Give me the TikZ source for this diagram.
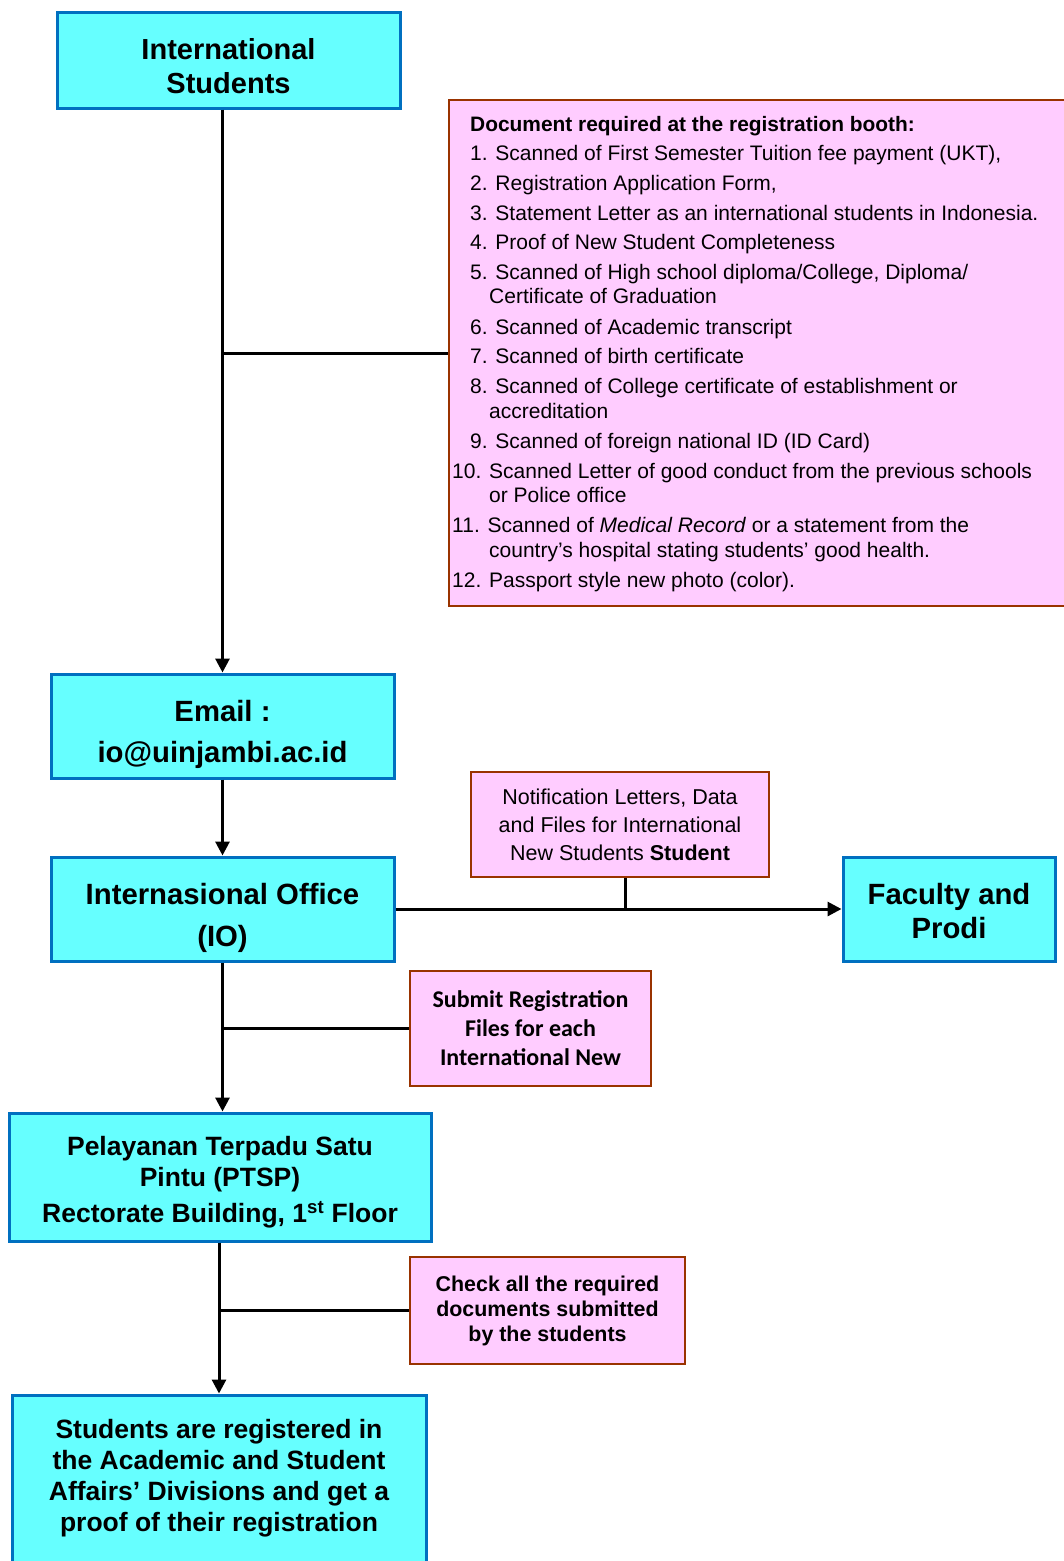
\documentclass[tikz,border=0pt]{standalone}
\usepackage{fontspec}
\setmainfont{Liberation Sans}
\newfontfamily\calibrifont{Carlito}
\usetikzlibrary{arrows.meta}
\definecolor{cyanfill}{HTML}{66FFFF}
\definecolor{boxblue}{HTML}{0070C0}
\definecolor{pinkfill}{HTML}{FFCCFF}
\definecolor{brownline}{HTML}{993300}
\begin{document}
\begin{tikzpicture}[x=1pt,y=-1pt,
  bluebox/.style={draw=boxblue,line width=3pt,fill=cyanfill,align=center,inner sep=0pt},
  pinkbox/.style={draw=brownline,line width=2pt,fill=pinkfill,align=center,inner sep=0pt},
  conn/.style={line width=3pt,draw=black},
  arr/.style={conn,-{Triangle[length=14pt,width=14pt]}},
  docline/.style={anchor=base west,inner sep=0pt,font=\fontsize{21}{24}\selectfont}]
\useasboundingbox (0,0) rectangle (1064,1561);

% blue boxes
\node[bluebox,minimum width=343pt,minimum height=96pt,font=\fontsize{29}{34}\selectfont\bfseries] (intl) at (228.5,60)
  {\rule{0pt}{33pt}International\\Students};
\node[bluebox,minimum width=343pt,minimum height=104pt,font=\fontsize{29.3}{41}\selectfont\bfseries] (email) at (222.5,726)
  {\rule{0pt}{38pt}Email :\\io@uinjambi.ac.id};
\node[bluebox,minimum width=343pt,minimum height=104pt,font=\fontsize{29.3}{42}\selectfont\bfseries] (io) at (222.5,909)
  {\rule{0pt}{39pt}Internasional Office\\(IO)};
\node[bluebox,minimum width=212pt,minimum height=104pt,font=\fontsize{29.3}{34}\selectfont\bfseries] (fac) at (949,909)
  {\rule{0pt}{25pt}Faculty and\\Prodi};
\node[bluebox,minimum width=422pt,minimum height=128pt,font=\fontsize{26.5}{31}\selectfont\bfseries] (ptsp) at (220,1177)
  {\rule{0pt}{29pt}Pelayanan Terpadu Satu\\Pintu (PTSP)\\[5pt]Rectorate Building, 1\textsuperscript{st} Floor};
\node[bluebox,minimum width=414pt,minimum height=180pt,font=\fontsize{26.5}{31}\selectfont\bfseries] (final) at (219,1485)
  {Students are registered in\\the Academic and Student\\Affairs’ Divisions and get a\\proof of their registration\rule[-19pt]{0pt}{19pt}};

% pink boxes
\node[pinkbox,minimum width=621pt,minimum height=506pt] (docs) at (759.5,353) {};
\node[pinkbox,minimum width=298pt,minimum height=105pt,font=\fontsize{21.5}{28}\selectfont] (notif) at (620,824.5)
  {Notification Letters, Data\\and Files for International\\New Students \textbf{Student}};
\node[pinkbox,minimum width=241pt,minimum height=115pt,font=\fontsize{24}{29}\selectfont\calibrifont\bfseries] (submit) at (530.5,1028.5)
  {Submit Registration\\Files for each\\International New};
\node[pinkbox,minimum width=275pt,minimum height=107pt,font=\fontsize{21.4}{25}\selectfont\bfseries] (check) at (547.5,1310.5)
  {Check all the required\\documents submitted\\by the students};

% document list
\node[docline,font=\fontsize{20.9}{24}\selectfont\bfseries] (d0) at (470,131) {Document required at the registration booth:};
\node[docline] (d1) at (470,160) {1. Scanned of First Semester Tuition fee payment (UKT),};
\node[docline] (d2) at (470,190) {2. Registration Application Form,};
\node[docline] (d3) at (470,220) {3. Statement Letter as an international students in Indonesia.};
\node[docline] (d4) at (470,249) {4. Proof of New Student Completeness};
\node[docline] (d5) at (470,279) {5. Scanned of High school diploma/College, Diploma/};
\node[docline] (d5b) at (489,303) {Certificate of Graduation};
\node[docline] (d6) at (470,334) {6. Scanned of Academic transcript};
\node[docline] (d7) at (470,363) {7. Scanned of birth certificate};
\node[docline] (d8) at (470,393) {8. Scanned of College certificate of establishment or};
\node[docline] (d8b) at (489,418) {accreditation};
\node[docline] (d9) at (470,448) {9. Scanned of foreign national ID (ID Card)};
\node[docline] (d10) at (452,478) {10. Scanned Letter of good conduct from the previous schools};
\node[docline] (d10b) at (489,502) {or Police office};
\node[docline] (d11) at (452,532) {11. Scanned of \textit{Medical Record} or a statement from the};
\node[docline] (d11b) at (489,557) {country’s hospital stating students’ good health.};
\node[docline] (d12) at (452,587) {12. Passport style new photo (color).};

% connectors
\draw[arr] (intl.south -| email.north) -- (email.north);
\draw[conn] (email.north |- docs.west) -- (docs.west);
\draw[arr] (email.south) -- (io.north);
\draw[arr] (io.east) -- (fac.west);
\draw[conn] ([xshift=5pt]notif.south) -- ([xshift=5pt]notif.south |- io.east);
\draw[arr] (io.south) -- (io.south |- ptsp.north);
\draw[conn] (io.south |- submit.west) -- (submit.west);
\draw[arr] (final.north |- ptsp.south) -- (final.north);
\draw[conn] (final.north |- check.west) -- (check.west);
\end{tikzpicture}
\end{document}
